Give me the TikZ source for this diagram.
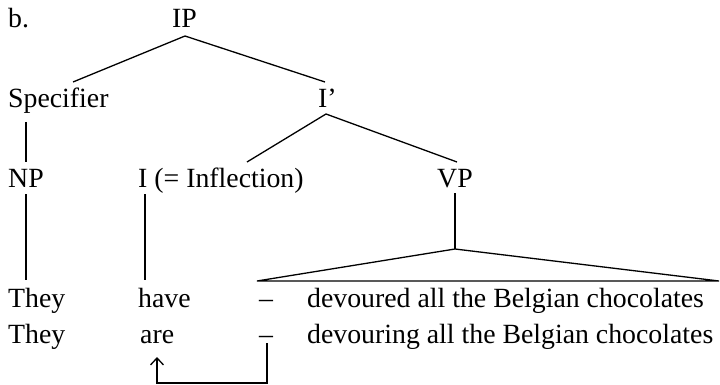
\documentclass[tikz,border=0pt]{standalone}
\usepackage{fontspec}
\setmainfont{Liberation Serif}
\usetikzlibrary{arrows.meta}
\begin{document}
\begin{tikzpicture}[x=1pt,y=-1pt,
  lbl/.style={anchor=base west,inner sep=0pt,font=\fontsize{27.8}{30}\selectfont},
  br/.style={line width=1.3pt},
  mv/.style={line width=1.3pt,-{Straight Barb[length=7pt,width=13pt]}}]
\useasboundingbox (0,0) rectangle (720,385);
% labels
\node[lbl] (b) at (8,28) {b.};
\node[lbl] (ip) at (172,28) {IP};
\node[lbl] (spec) at (8,108) {Specifier};
\node[lbl] (ibar) at (318,108) {I’};
\node[lbl] (np) at (8,187) {NP};
\node[lbl] (infl) at (138,187) {I (= Inflection)};
\node[lbl] (vp) at (437,187) {VP};
\node[lbl] (they1) at (8,307) {They};
\node[lbl] (have) at (138,307) {have};
\node[lbl] (dash1) at (259,307) {–};
\node[lbl] (devd) at (307,307) {devoured all the Belgian chocolates};
\node[lbl] (they2) at (8,343) {They};
\node[lbl] (are) at (140,343) {are};
\node[lbl] (dash2) at (259,343) {–};
\node[lbl] (devg) at (307,343) {devouring all the Belgian chocolates};
% branch end points
\coordinate (ipB) at (185,36);
\coordinate (specT) at (73,82);
\coordinate (ibarT) at (325,82);
\coordinate (ibarB) at (326,114);
\coordinate (inflT) at (247,162);
\coordinate (vpT) at (457,162);
\coordinate (specB) at (26,122);
\coordinate (npT) at (26,162);
\coordinate (npB) at (26,194);
\coordinate (they1T) at (26,280);
\coordinate (iB) at (145,194);
\coordinate (haveT) at (145,280);
\coordinate (vpB) at (455,193);
\coordinate (apex) at (455,249);
\coordinate (triL) at (257,281);
\coordinate (triR) at (719,281);
\coordinate (trS) at (267,343);
\coordinate (trC1) at (267,383);
\coordinate (trC2) at (157,383);
\coordinate (areB) at (157,357);
% branches
\draw[br] (specT) -- (ipB) -- (ibarT);
\draw[br] (inflT) -- (ibarB) -- (vpT);
\draw[br] (specB) -- (npT);
\draw[br] (npB) -- (they1T);
\draw[br] (iB) -- (haveT);
\draw[br] (vpB) -- (apex);
\draw[br,line join=miter] (triL) -- (apex) -- (triR) -- cycle;
% movement arrow
\draw[mv] (trS) -- (trC1) -- (trC2) -- (areB);
\end{tikzpicture}
\end{document}
